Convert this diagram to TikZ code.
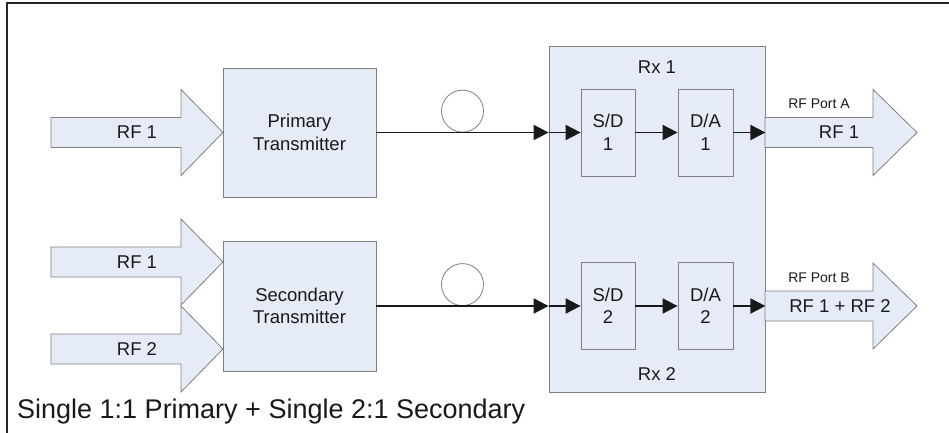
\documentclass[tikz,border=0pt]{standalone}
\usepackage{fontspec}
\setmainfont{Liberation Sans}
\usetikzlibrary{calc,arrows.meta}
\definecolor{boxfill}{RGB}{230,236,247}
\definecolor{boxline}{RGB}{128,128,128}
% block arrow: start x, head base x, tip x, centre y
\newcommand{\fatarrow}[4]{\draw[fat] (#1,#4-15) -- (#2,#4-15) -- (#2,#4-43) -- (#3,#4) -- (#2,#4+43) -- (#2,#4+15) -- (#1,#4+15) -- cycle;}

\begin{document}
\begin{tikzpicture}[x=1pt,y=-1pt,
  every node/.style={font=\fontsize{18.5}{22.5}\selectfont, text=black!90, align=center},
  blk/.style={draw=boxline, fill=boxfill, line width=0.8pt, inner sep=0pt},
  fat/.style={draw=boxline, fill=boxfill, line width=0.8pt},
  sig/.style={line width=1.9pt, black!90, -{Triangle[length=15pt,width=15pt]}},
  loopc/.style={circle, draw=boxline, line width=0.8pt, minimum size=42pt, inner sep=0pt, anchor=south},
  small/.style={font=\fontsize{14}{16}\selectfont}]
\useasboundingbox (0,0) rectangle (949,433);

% frame
\draw[line width=2.5pt, black!85] (949,3) -- (7,3) -- (7,433);

% transmitters and receiver
\node[blk, minimum width=153pt, minimum height=129pt] (ptx) at (299.5,132.5) {Primary\\Transmitter};
\node[blk, minimum width=153pt, minimum height=130pt] (stx) at (299.5,306) {Secondary\\Transmitter};
\node[blk, minimum width=216pt, minimum height=346pt] (rx) at (657,219) {};
\node (rxa) at (657,67) {Rx 1};
\node (rxb) at (657,374) {Rx 2};
\node[blk, minimum width=54pt, minimum height=87pt] (sda) at (608,132.5) {S/D\\1};
\node[blk, minimum width=55pt, minimum height=87pt] (daa) at (705.5,132.5) {D/A\\1};
\node[blk, minimum width=54pt, minimum height=87pt] (sdb) at (608,306) {S/D\\2};
\node[blk, minimum width=55pt, minimum height=87pt] (dab) at (705.5,306) {D/A\\2};

% RF inputs and outputs
\fatarrow{51}{181}{223}{132.5}
\fatarrow{51}{181}{223}{262}
\fatarrow{51}{181}{223}{349}
\fatarrow{765}{873}{917}{132.5}
\fatarrow{765}{873}{917}{306}
\node (rfa) at (137,132.5) {RF 1};
\node (rfb) at (137,262) {RF 1};
\node (rfc) at (137,349) {RF 2};
\node (outa) at (839,132.5) {RF 1};
\node (outb) at (840,306) {RF 1 + RF 2};
\node[small] (porta) at (819,104) {RF Port A};
\node[small] (portb) at (819,278) {RF Port B};

% fibre links
\coordinate (rxinA) at (rx.west |- ptx.east);
\coordinate (rxinB) at (rx.west |- stx.east);
\node[loopc] (loopa) at ($(ptx.east)!0.5!(rxinA)$) {};
\node[loopc] (loopb) at ($(stx.east)!0.5!(rxinB)$) {};
\draw[sig] (ptx.east) -- (rxinA);
\draw[sig] (rxinA) -- (sda.west);
\draw[sig] (sda.east) -- (daa.west);
\draw[sig] (daa.east) -- (daa.east -| rx.east);
\draw[sig] (stx.east) -- (rxinB);
\draw[sig] (rxinB) -- (sdb.west);
\draw[sig] (sdb.east) -- (dab.west);
\draw[sig] (dab.east) -- (dab.east -| rx.east);

\node[font=\fontsize{27}{30}\selectfont, anchor=west, inner sep=0pt] (cap) at (17,412) {Single 1:1 Primary + Single 2:1 Secondary};
\end{tikzpicture}
\end{document}
